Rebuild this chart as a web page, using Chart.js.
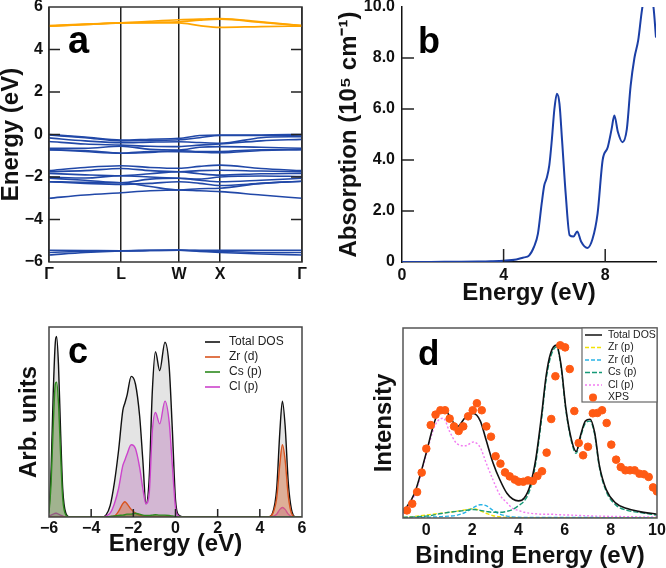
<!DOCTYPE html>
<html><head><meta charset="utf-8">
<script src="https://cdn.jsdelivr.net/npm/chart.js@4.4.1/dist/chart.umd.min.js"></script>
<style>
html,body{margin:0;padding:0;background:#fff;}
body{width:666px;height:568px;position:relative;overflow:hidden}
canvas{position:absolute;display:block}
</style></head><body>
<canvas id="pa" width="333" height="310" style="left:0;top:0"></canvas>
<canvas id="pb" width="333" height="310" style="left:333px;top:0"></canvas>
<canvas id="pc" width="333" height="258" style="left:0;top:310px"></canvas>
<canvas id="pd" width="333" height="258" style="left:333px;top:310px"></canvas>
<script>
// ---------- Panel a: band structure ----------
const kPath = [0, 0.1425, 0.285, 0.3995, 0.514, 0.595, 0.676, 0.838, 1];
const kTicks = [0, 0.285, 0.514, 0.676, 1];
const kLabels = ['Γ', 'L', 'W', 'X', 'Γ'];
const energyTicksA = [-6, -4, -2, 0, 2, 4, 6];
const conductionBands = [
  [5.10, 5.17, 5.25, 5.25, 5.25, 5.12, 5.04, 5.08, 5.10],
  [5.10, 5.18, 5.25, 5.33, 5.40, 5.43, 5.45, 5.30, 5.12],
  [5.12, 5.20, 5.25, 5.28, 5.30, 5.38, 5.43, 5.28, 5.12]
];
const valenceBands = [
  [0.00, -0.12, -0.26, -0.22, -0.18, -0.05, -0.02, -0.02, 0.00],
  [-0.02, -0.15, -0.30, -0.28, -0.25, -0.15, -0.05, -0.05, -0.02],
  [-0.16, -0.30, -0.39, -0.36, -0.34, -0.38, -0.41, -0.15, -0.10],
  [-0.33, -0.45, -0.50, -0.55, -0.57, -0.50, -0.45, -0.30, -0.23],
  [-0.65, -0.65, -0.55, -0.70, -0.73, -0.60, -0.57, -0.60, -0.65],
  [-0.73, -0.75, -0.88, -0.80, -0.81, -0.83, -0.86, -0.75, -0.70],
  [-0.70, -0.80, -0.88, -0.85, -0.75, -0.80, -0.80, -0.72, -0.72],
  [-1.70, -1.55, -1.47, -1.55, -1.59, -1.50, -1.44, -1.60, -1.70],
  [-1.75, -1.70, -1.60, -1.70, -1.75, -1.70, -1.68, -1.72, -1.75],
  [-1.83, -1.90, -1.94, -1.85, -1.75, -1.85, -1.91, -1.85, -1.83],
  [-2.00, -2.05, -1.94, -2.00, -2.06, -2.10, -2.00, -1.95, -1.98],
  [-2.06, -2.15, -2.27, -2.10, -2.06, -2.15, -2.22, -2.15, -2.06],
  [-2.22, -2.30, -2.35, -2.30, -2.22, -2.30, -2.40, -2.30, -2.20],
  [-2.22, -2.25, -2.27, -2.45, -2.61, -2.55, -2.53, -2.30, -2.20],
  [-3.00, -2.85, -2.74, -2.65, -2.61, -2.65, -2.69, -2.85, -3.00],
  [-5.45, -5.46, -5.47, -5.45, -5.44, -5.45, -5.45, -5.45, -5.45],
  [-5.55, -5.50, -5.47, -5.46, -5.45, -5.47, -5.50, -5.55, -5.55],
  [-5.67, -5.55, -5.48, -5.46, -5.45, -5.50, -5.55, -5.62, -5.67]
];

// ---------- Panel b: absorption ----------
const absEnergy = [0, 1, 2, 3, 3.5, 4, 4.5, 4.8, 5.0, 5.2, 5.35, 5.5, 5.6, 5.7, 5.8, 5.9, 6.0, 6.1, 6.2, 6.3, 6.45, 6.6, 6.75, 6.9, 7.05, 7.3, 7.5, 7.7, 7.9, 8.1, 8.25, 8.36, 8.5, 8.68, 8.85, 9.0, 9.15, 9.3, 9.45, 9.6, 9.75, 9.9, 10];
const absValue  = [0, 0, 0.01, 0.02, 0.03, 0.05, 0.1, 0.18, 0.25, 0.6, 1.1, 2.3, 3.0, 3.3, 3.8, 4.8, 6.0, 6.6, 6.2, 4.8, 2.6, 1.05, 1.0, 1.2, 0.8, 0.55, 0.9, 1.9, 4.0, 4.5, 5.2, 5.75, 5.1, 4.7, 5.2, 6.9, 8.0, 8.7, 9.9, 10.6, 10.6, 10.0, 8.8];
const absTicksX = [0, 4, 8];
const absTicksY = [0, 2, 4, 6, 8, 10];

// ---------- Panel c: PDOS ----------
const dosE = [-6, -5.9, -5.8, -5.7, -5.64, -5.55, -5.45, -5.35, -5.2, -5.0, -3.5, -3.3, -3.1, -2.9, -2.7, -2.5, -2.4, -2.3, -2.1, -1.9, -1.7, -1.55, -1.4, -1.25, -1.1, -0.95, -0.75, -0.5, -0.3, -0.15, 0, 0.15, 0.4, 4.4, 4.6, 4.8, 4.95, 5.07, 5.2, 5.35, 5.5, 5.7, 6];
const dosTotal = [3, 25, 65, 92, 95, 80, 45, 15, 2, 0, 0, 1, 6, 18, 35, 56, 60, 64, 74, 70, 53, 30, 7, 20, 66, 87, 77, 92, 79, 46, 9, 1, 0, 0, 2, 15, 45, 61, 48, 18, 4, 0, 0];
const dosClP = [0.5, 1, 1.5, 2, 2, 1.5, 1, 0.5, 0, 0, 0, 0.5, 2, 7, 15, 27, 30, 33, 38, 36, 26, 15, 7, 12, 45, 55, 49, 61, 50, 27, 5, 0.5, 0, 0, 0.3, 1.5, 4, 5, 4, 1.5, 0.3, 0, 0];
const dosZrD = [0, 0, 0, 0, 0, 0, 0, 0, 0, 0, 0, 0, 0.2, 0.5, 3, 7, 8, 7, 4, 2, 1, 0.5, 0.3, 0.3, 0.3, 0.3, 0.3, 0.3, 0.3, 0.2, 0, 0, 0, 0, 1.5, 10, 28, 38, 30, 11, 2, 0, 0];
const dosCsP = [2, 18, 48, 70, 71, 60, 33, 10, 1, 0, 0, 0, 0.3, 0.5, 0.8, 1, 1.2, 1.5, 1.5, 2, 1.5, 1, 0.8, 0.8, 1, 1.2, 1, 1, 0.8, 0.5, 0.2, 0, 0, 0, 0, 0, 0, 0, 0, 0, 0, 0, 0];
const dosTicksX = [-6, -4, -2, 0, 2, 4, 6];
const dosLabels = ['Total DOS', 'Zr (d)', 'Cs (p)', 'Cl (p)'];

// ---------- Panel d: XPS vs DOS ----------
const beE = [-1, -0.5, 0, 0.3, 0.5, 0.75, 1.0, 1.35, 1.7, 2.05, 2.35, 2.6, 2.9, 3.2, 3.5, 3.75, 4.0, 4.25, 4.5, 4.75, 5.0, 5.2, 5.4, 5.65, 5.85, 6.05, 6.3, 6.5, 6.7, 6.9, 7.1, 7.3, 7.5, 7.8, 8.2, 8.7, 9.2, 10];
const beTotal = [3, 13, 34, 48, 55, 58, 54, 48, 53, 55, 51, 41, 29, 20, 13, 10, 9, 10.5, 17, 31, 54, 75, 87, 91, 80, 58, 41, 35, 44, 51, 52, 45, 28, 15, 8, 5, 3.5, 2];
const beZrP = [0.3, 0.8, 1.5, 2, 2.3, 2.7, 3, 3.6, 4.3, 4.9, 3.8, 2.5, 1.2, 0.6, 0.3, 0.2, 0.1, 0.1, 0.1, 0.1, 0.1, 0.1, 0.1, 0.1, 0.1, 0.1, 0.1, 0.1, 0.1, 0.1, 0.1, 0.1, 0.1, 0.1, 0.1, 0.1, 0.1, 0.1];
const beZrD = [0.2, 0.3, 0.4, 0.5, 0.6, 0.8, 1, 1.5, 3, 5.5, 7, 6.5, 4, 2, 1, 0.6, 0.4, 0.3, 0.3, 0.3, 0.3, 0.3, 0.3, 0.3, 0.3, 0.3, 0.3, 0.3, 0.3, 0.3, 0.3, 0.3, 0.2, 0.2, 0.2, 0.2, 0.2, 0.2];
const beCsP = [0.3, 0.6, 1, 1.5, 2, 2.5, 3, 3.5, 4, 4.5, 4, 3.5, 3, 3, 3.5, 4.5, 6.5, 9, 15, 29, 52, 73, 85, 90, 79, 57, 40, 34, 43, 50, 51, 44, 27, 14, 7, 4, 3, 1.5];
const beClP = [2, 12, 33, 46, 51, 52.5, 46, 39, 38, 40, 37, 29, 20, 12, 8, 5, 4, 3, 2.5, 2.2, 2, 2, 2, 1.8, 1.7, 1.6, 1.5, 1.4, 1.3, 1.2, 1.1, 1, 1, 0.9, 0.8, 0.7, 0.6, 0.5];
const xpsE = [-0.83, -0.6, -0.39, -0.19, 0.01, 0.2, 0.41, 0.62, 0.82, 1.02, 1.21, 1.41, 1.61, 1.82, 2.02, 2.2, 2.41, 2.61, 2.81, 3.01, 3.22, 3.42, 3.62, 3.84, 4.01, 4.21, 4.41, 4.62, 4.82, 5.02, 5.22, 5.42, 5.6, 5.81, 6.02, 6.22, 6.42, 6.61, 6.8, 7.01, 7.22, 7.42, 7.62, 7.82, 8.02, 8.23, 8.43, 8.63, 8.83, 9.03, 9.24, 9.44, 9.64, 9.83, 10.0];
const xpsI = [4.0, 7.5, 13.7, 23.9, 36.5, 48.9, 54.4, 56.7, 56.7, 52.3, 48.2, 45.8, 48.2, 53.5, 56.7, 60.4, 56.7, 48.2, 42.8, 32.5, 28.6, 24.0, 21.9, 20.2, 19.1, 19.1, 19.8, 19.5, 22.1, 24.6, 34.4, 52.1, 74.6, 90.9, 89.8, 78.4, 56.3, 39.5, 33.0, 37.5, 55.1, 55.3, 56.7, 50.0, 38.6, 30.7, 26.8, 25.1, 25.1, 25.1, 23.3, 23.0, 21.6, 16.1, 14.0];
const beTicksX = [0, 2, 4, 6, 8, 10];
const beLabels = ['Total DOS', 'Zr (p)', 'Zr (d)', 'Cs (p)', 'Cl (p)', 'XPS'];

// ---------- helpers ----------
const FONT = '"Liberation Sans", Arial, Helvetica, sans-serif';
Chart.defaults.font.family = FONT;
Chart.defaults.color = '#111';
const tickFont = {family: FONT, size: 16, weight: 'bold'};
const titleFont = {family: FONT, size: 24, weight: 'bold', lineHeight: 1};
const minus = v => (v < 0 ? '\u2212' + Math.abs(v) : String(v));
const pts = (xs, ys) => xs.map((x, i) => ({x: x, y: ys[i]}));
const setTicks = arr => s => { s.ticks = arr.map(v => ({value: v})); };
const fixW = w => s => { s.width = w; s.paddingTop = 0; s.paddingBottom = 0; };
const fixH = h => s => { s.height = h; s.paddingLeft = 0; s.paddingRight = 0; };
const baseOpts = {
  responsive: false, animation: false, devicePixelRatio: 1,
  plugins: {legend: {display: false}, tooltip: {enabled: false}},
  elements: {point: {radius: 0}}
};

function decor(cfg) {
  return {id: 'decor', afterDatasetsDraw(chart) {
    const ctx = chart.ctx, a = chart.chartArea;
    ctx.save();
    if (cfg.frame) {
      ctx.strokeStyle = cfg.frame; ctx.lineWidth = 1.5;
      ctx.strokeRect(a.left, a.top, a.right - a.left, a.bottom - a.top);
    }
    (cfg.ticks || []).forEach(t => {
      const sc = chart.scales[t.axis];
      ctx.strokeStyle = '#222'; ctx.lineWidth = 1.5;
      t.values.forEach(v => {
        const p = sc.getPixelForValue(v);
        ctx.beginPath();
        if (t.side === 'left') { ctx.moveTo(a.left, p); ctx.lineTo(a.left + t.len, p); }
        else if (t.side === 'right') { ctx.moveTo(a.right, p); ctx.lineTo(a.right - t.len, p); }
        else { ctx.moveTo(p, a.bottom); ctx.lineTo(p, a.bottom - t.len); }
        ctx.stroke();
      });
    });
    if (cfg.legend) cfg.legend(ctx, a);
    if (cfg.letter) {
      const L = cfg.letter;
      ctx.fillStyle = '#000'; ctx.textAlign = 'left'; ctx.textBaseline = 'alphabetic';
      ctx.font = 'bold ' + L.size + 'px ' + FONT;
      ctx.fillText(L.text, a.left + L.dx, a.top + L.dy);
    }
    ctx.restore();
  }};
}

// ---------- Chart a ----------
const bandDatasets = [];
conductionBands.forEach(b => bandDatasets.push({data: pts(kPath, b), borderColor: '#ffa500', borderWidth: 1.7, cubicInterpolationMode: 'monotone', fill: false}));
valenceBands.forEach(b => bandDatasets.push({data: pts(kPath, b), borderColor: '#2148a8', borderWidth: 1.6, cubicInterpolationMode: 'monotone', fill: false}));
new Chart(document.getElementById('pa'), {
  type: 'line',
  data: {datasets: bandDatasets},
  options: Object.assign({}, baseOpts, {
    layout: {padding: {left: 0, right: 31, top: 7, bottom: 0}},
    scales: {
      x: {type: 'linear', min: 0, max: 1, afterBuildTicks: setTicks(kTicks), afterFit: fixH(48),
          ticks: {font: tickFont, padding: 3, maxRotation: 0, autoSkip: false, callback: (v, i) => kLabels[i]},
          grid: {display: true, color: '#222', lineWidth: 1.5, drawTicks: false}, border: {display: false}},
      y: {type: 'linear', min: -6, max: 6, afterBuildTicks: setTicks(energyTicksA), afterFit: fixW(49),
          ticks: {font: tickFont, padding: 6, callback: v => minus(v)},
          grid: {display: false, drawTicks: false}, border: {display: false},
          title: {display: true, text: 'Energy (eV)', font: titleFont, padding: {top: -1, bottom: 0}}}
    }
  }),
  plugins: [decor({frame: '#333', ticks: [{axis: 'y', side: 'left', len: 11, values: [-4, -2, 0, 2, 4]}, {axis: 'y', side: 'right', len: 11, values: [-4, -2, 0, 2, 4]}], letter: {text: 'a', size: 38, dx: 19, dy: 46}})]
});

// ---------- Chart b ----------
new Chart(document.getElementById('pb'), {
  type: 'line',
  data: {datasets: [{data: pts(absEnergy, absValue), borderColor: '#1b3fa6', borderWidth: 2, cubicInterpolationMode: 'monotone', fill: false}]},
  options: Object.assign({}, baseOpts, {
    layout: {padding: {left: 0, right: 10, top: 7, bottom: 0}},
    scales: {
      x: {type: 'linear', min: 0, max: 10, afterBuildTicks: setTicks(absTicksX), afterFit: fixH(48),
          ticks: {font: tickFont, padding: 4, maxRotation: 0, callback: v => String(v)},
          grid: {display: false, drawTicks: false}, border: {display: true, color: '#111', width: 1.5},
          title: {display: true, text: 'Energy (eV)', font: titleFont, padding: {top: 0, bottom: 5}}},
      y: {type: 'linear', min: 0, max: 10, afterBuildTicks: setTicks(absTicksY), afterFit: fixW(69),
          ticks: {font: tickFont, padding: 7, callback: v => (v === 0 ? '0' : v.toFixed(1))},
          grid: {display: false, drawTicks: false}, border: {display: true, color: '#111', width: 1.5},
          title: {display: true, text: 'Absorption (10\u2075 cm\u207B\u00B9)', font: titleFont, padding: {top: 4, bottom: 0}}}
    }
  }),
  plugins: [decor({ticks: [{axis: 'x', side: 'bottom', len: 13, values: [4, 8]}, {axis: 'y', side: 'left', len: 12, values: [2, 4, 6, 8]}], letter: {text: 'b', size: 36, dx: 16, dy: 46}})]
});

// ---------- Chart c ----------
const dosColors = ['#111111', '#d9531e', '#2d8a1e', '#cc44cc'];
const dosFills = ['rgba(185,185,185,0.38)', 'rgba(215,110,60,0.45)', 'rgba(80,120,40,0.45)', 'rgba(175,90,175,0.33)'];
const dosSeries = [dosTotal, dosZrD, dosCsP, dosClP];
const drawOrderC = [4, 2, 1, 3];
new Chart(document.getElementById('pc'), {
  type: 'line',
  data: {datasets: dosSeries.map((s, i) => ({label: dosLabels[i], data: pts(dosE, s), borderColor: dosColors[i], backgroundColor: dosFills[i], borderWidth: 1.4, cubicInterpolationMode: 'monotone', fill: 'origin', order: drawOrderC[i]}))},
  options: Object.assign({}, baseOpts, {
    layout: {padding: {left: 0, right: 31, top: 17, bottom: 0}},
    scales: {
      x: {type: 'linear', min: -6, max: 6, afterBuildTicks: setTicks(dosTicksX), afterFit: fixH(51),
          ticks: {font: tickFont, padding: 2, maxRotation: 0, callback: v => minus(v)},
          grid: {display: false, drawTicks: false}, border: {display: false},
          title: {display: true, text: 'Energy (eV)', font: titleFont, padding: {top: 0, bottom: 12}}},
      y: {type: 'linear', min: 0, max: 100, afterFit: fixW(49),
          ticks: {display: false}, grid: {display: false, drawTicks: false}, border: {display: false},
          title: {display: true, text: 'Arb. units', font: titleFont, padding: {top: 17, bottom: 0}}}
    }
  }),
  plugins: [decor({frame: '#444', ticks: [{axis: 'x', side: 'bottom', len: 8, values: [-4, -2, 0, 2, 4]}], letter: {text: 'c', size: 36, dx: 19, dy: 36},
    legend: (ctx, a) => {
      ctx.font = '12px ' + FONT; ctx.textBaseline = 'middle'; ctx.textAlign = 'left';
      dosLabels.forEach((lab, i) => {
        const y = a.top + 15 + i * 15;
        ctx.strokeStyle = dosColors[i]; ctx.lineWidth = 1.6;
        ctx.beginPath(); ctx.moveTo(a.left + 156, y); ctx.lineTo(a.left + 171, y); ctx.stroke();
        ctx.fillStyle = '#222'; ctx.fillText(lab, a.left + 180, y);
      });
    }})]
});

// ---------- Chart d ----------
const beColors = ['#111111', '#f2e205', '#2ab4e6', '#169a78', '#f27cf2', '#ff5a14'];
const beDash = [[], [4, 2], [4, 2], [5, 2], [2, 2]];
const beSeries = [beTotal, beZrP, beZrD, beCsP, beClP];
const drawOrderD = [2, 5, 4, 3, 6];
const dDatasets = beSeries.map((s, i) => ({label: beLabels[i], data: pts(beE, s), borderColor: beColors[i], borderWidth: i === 0 ? 1.6 : 1.4, borderDash: beDash[i], cubicInterpolationMode: 'monotone', fill: false, order: drawOrderD[i]}));
dDatasets.push({label: 'XPS', type: 'scatter', data: pts(xpsE, xpsI), backgroundColor: beColors[5], borderColor: beColors[5], pointRadius: 3.8, pointStyle: 'circle', showLine: false, order: 0});
new Chart(document.getElementById('pd'), {
  type: 'line',
  data: {datasets: dDatasets},
  options: Object.assign({}, baseOpts, {
    elements: {point: {radius: 0}},
    layout: {padding: {left: 0, right: 9, top: 18, bottom: 0}},
    scales: {
      x: {type: 'linear', min: -1, max: 10, afterBuildTicks: setTicks(beTicksX), afterFit: fixH(50),
          ticks: {font: tickFont, padding: 3, maxRotation: 0, callback: v => minus(v)},
          grid: {display: false, drawTicks: false}, border: {display: false},
          title: {display: true, text: 'Binding Energy (eV)', font: titleFont, padding: {top: 0, bottom: 0}}},
      y: {type: 'linear', min: 0, max: 100, afterFit: fixW(70),
          ticks: {display: false}, grid: {display: false, drawTicks: false}, border: {display: false},
          title: {display: true, text: 'Intensity', font: titleFont, padding: {top: 39, bottom: 0}}}
    }
  }),
  plugins: [decor({frame: '#555', letter: {text: 'd', size: 35, dx: 15, dy: 37},
    legend: (ctx, a) => {
      const bx = a.right - 75, by = a.top;
      ctx.fillStyle = '#fff'; ctx.fillRect(bx, by, 75, 74);
      ctx.strokeStyle = '#666'; ctx.lineWidth = 1.2; ctx.strokeRect(bx, by, 75, 74);
      ctx.font = '10.5px ' + FONT; ctx.textBaseline = 'middle'; ctx.textAlign = 'left';
      beLabels.forEach((lab, i) => {
        const y = by + 7 + i * 12.5;
        if (i < 5) {
          ctx.strokeStyle = beColors[i]; ctx.lineWidth = 1.5; ctx.setLineDash(beDash[i]);
          ctx.beginPath(); ctx.moveTo(bx + 3, y); ctx.lineTo(bx + 20, y); ctx.stroke();
          ctx.setLineDash([]);
        } else {
          ctx.fillStyle = beColors[5]; ctx.beginPath(); ctx.arc(bx + 11, y, 4, 0, Math.PI * 2); ctx.fill();
        }
        ctx.fillStyle = '#222'; ctx.fillText(lab, bx + 26, y);
      });
    }})]
});
</script>
</body></html>
